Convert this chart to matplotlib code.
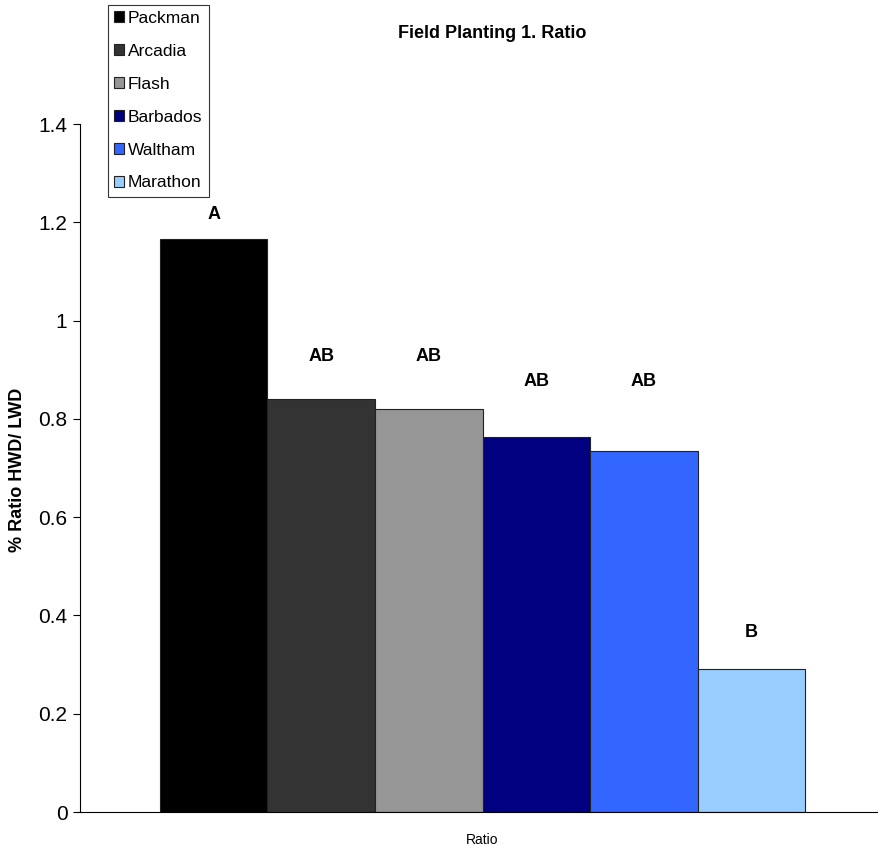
import numpy as np
import matplotlib
matplotlib.use("Agg")
import matplotlib.pyplot as plt
from matplotlib.patches import Patch

plt.rcParams['font.family'] = ['Liberation Sans', 'DejaVu Sans']

varieties = ['Packman', 'Arcadia', 'Flash', 'Barbados', 'Waltham', 'Marathon']
ratio = [1.166, 0.840, 0.820, 0.763, 0.735, 0.292]
letters = ['A', 'AB', 'AB', 'AB', 'AB', 'B']
letter_y = [1.215, 0.926, 0.926, 0.877, 0.877, 0.366]
colors = ['#000000', '#333333', '#969696', '#000080', '#3366FF', '#99CCFF']

fig = plt.figure(figsize=(8.79, 8.57), dpi=100)
ax = fig.add_axes([80 / 879, 1 - 812 / 857, 1 - 80 / 879, (812 - 124) / 857])

x = np.arange(len(varieties))
ax.bar(x, ratio, width=1.0, color=colors, edgecolor='#222222', linewidth=0.8)
for xi, lab, ly in zip(x, letters, letter_y):
    ax.text(xi, ly, lab, ha='center', va='center', fontsize=13, fontweight='bold')

ax.set_xlim(-1.244, 6.188)
ax.set_ylim(0, 1.4)
ax.set_yticks([0, 0.2, 0.4, 0.6, 0.8, 1.0, 1.2, 1.4])
ax.set_yticklabels(['0', '0.2', '0.4', '0.6', '0.8', '1', '1.2', '1.4'])
ax.tick_params(axis='y', labelsize=15, length=5, width=0.8, direction='out', pad=4)
ax.set_xticks([])
ax.spines['top'].set_visible(False)
ax.spines['right'].set_visible(False)
ax.spines['left'].set_linewidth(0.8)
ax.spines['bottom'].set_linewidth(0.8)

ax.set_ylabel('% Ratio HWD/ LWD', fontsize=13, fontweight='bold')
ax.yaxis.set_label_coords(-0.067, 0.497)
fig.text(482 / 879, 1 - 840 / 857, 'Ratio', ha='center', va='center', fontsize=10)
fig.text(492 / 879, 1 - 33 / 857, 'Field Planting 1. Ratio', ha='center', va='center',
         fontsize=13, fontweight='bold')

handles = [Patch(facecolor=c, edgecolor='#222222', linewidth=0.8) for c in colors]
leg = fig.legend(handles, varieties, loc='upper left', bbox_to_anchor=(108 / 879, 1 - 5 / 857),
                 fontsize=12.5, frameon=True, fancybox=False, edgecolor='black',
                 handlelength=0.6, handleheight=0.6, handletextpad=0.2, labelspacing=1.03,
                 borderpad=0.35, borderaxespad=0)
leg.get_frame().set_linewidth(0.8)

fig.savefig('out.png', dpi=100)
